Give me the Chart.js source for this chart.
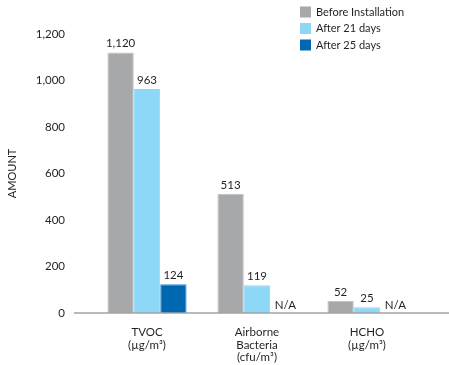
<!DOCTYPE html>
<html>
<head>
<meta charset="utf-8">
<script src="https://cdn.jsdelivr.net/npm/chart.js@4/dist/chart.umd.min.js"></script>
<style>
  html, body { margin: 0; padding: 0; background: #fff; }
  #grafico { display: block; }
</style>
</head>
<body>
<canvas id="grafico" width="449" height="365"></canvas>
<script>
// datos del grafico
const categorias = [['TVOC', '(µg/m³)'], ['Airborne', 'Bacteria', '(cfu/m³)'], ['HCHO', '(µg/m³)']];
const series = ['Before Installation', 'After 21 days', 'After 25 days'];
const antes = [1120, 513, 52];
const despues21 = [963, 119, 25];
const despues25 = [124, null, null];
const ticksY = [0, 200, 400, 600, 800, 1000, 1200];

const colores = ['#a7a8aa', '#8dd7f7', '#0067b1'];
const bordes = ['#c3c4c6', '#8dd7f7', '#3d8fcf'];
const fuente = 'Lato, "Open Sans", sans-serif';
const negro = '#231f20';

// linea base del eje x, mas ancha que el area del grafico
const lineaBase = {
  id: 'lineaBase',
  afterDatasetsDraw(chart) {
    const ctx = chart.ctx;
    const y = chart.scales.y.getPixelForValue(0);
    ctx.save();
    ctx.strokeStyle = '#a3a3a3';
    ctx.lineWidth = 1.5;
    ctx.beginPath();
    ctx.moveTo(74, y);
    ctx.lineTo(chart.width, y);
    ctx.stroke();
    ctx.restore();
  }
};

// etiquetas de valor encima de cada barra (o N/A si no hay dato)
const etiquetas = {
  id: 'etiquetas',
  afterDatasetsDraw(chart) {
    const ctx = chart.ctx;
    const y0 = chart.scales.y.getPixelForValue(0);
    ctx.save();
    ctx.font = '11.5px ' + fuente;
    ctx.fillStyle = negro;
    ctx.textAlign = 'center';
    ctx.textBaseline = 'bottom';
    chart.data.datasets.forEach((ds, i) => {
      const meta = chart.getDatasetMeta(i);
      meta.data.forEach((barra, j) => {
        const valor = ds.data[j];
        if (valor === null) {
          ctx.fillText('N/A', barra.x + 2, y0 - 2);
        } else {
          ctx.fillText(valor.toLocaleString('en-US'), barra.x, barra.y - 3);
        }
      });
    });
    ctx.restore();
  }
};

// leyenda dibujada dentro del area, arriba a la derecha
const leyenda = {
  id: 'leyenda',
  afterDraw(chart) {
    const ctx = chart.ctx;
    ctx.save();
    ctx.font = '11px ' + fuente;
    ctx.textBaseline = 'middle';
    chart.data.datasets.forEach((ds, i) => {
      const y = 12 + i * 16.5;
      ctx.fillStyle = ds.backgroundColor;
      ctx.fillRect(300, y - 5.5, 11, 11);
      ctx.fillStyle = negro;
      ctx.fillText(ds.label, 316, y);
    });
    ctx.restore();
  }
};

const datasets = [antes, despues21, despues25].map((datos, i) => ({
  label: series[i],
  data: datos,
  backgroundColor: colores[i],
  borderColor: bordes[i],
  borderWidth: 1,
  barPercentage: 1,
  categoryPercentage: 0.72
}));

new Chart(document.getElementById('grafico'), {
  type: 'bar',
  data: { labels: categorias, datasets: datasets },
  options: {
    responsive: false,
    animation: false,
    layout: { padding: { top: 13, right: 27, left: 0, bottom: 0 } },
    plugins: {
      legend: { display: false },
      tooltip: { enabled: false }
    },
    scales: {
      x: {
        afterFit(scale) { scale.height = 52; },
        grid: { display: false, drawTicks: false },
        border: { display: false },
        ticks: {
          color: negro,
          font: { family: fuente, size: 11.5, lineHeight: 1.1 },
          padding: 13,
          maxRotation: 0
        }
      },
      y: {
        min: 0,
        max: 1200,
        afterBuildTicks(scale) {
          scale.ticks = ticksY.map(v => ({ value: v }));
        },
        afterFit(scale) { scale.width = 92; },
        grid: { display: false, drawTicks: false },
        border: { display: false },
        ticks: {
          color: negro,
          font: { family: fuente, size: 11.5 },
          padding: 27,
          callback: v => v.toLocaleString('en-US')
        },
        title: {
          display: true,
          text: 'AMOUNT',
          color: negro,
          font: { family: fuente, size: 11 },
          padding: { top: 6, bottom: 0 }
        }
      }
    }
  },
  plugins: [lineaBase, etiquetas, leyenda]
});
</script>
</body>
</html>
